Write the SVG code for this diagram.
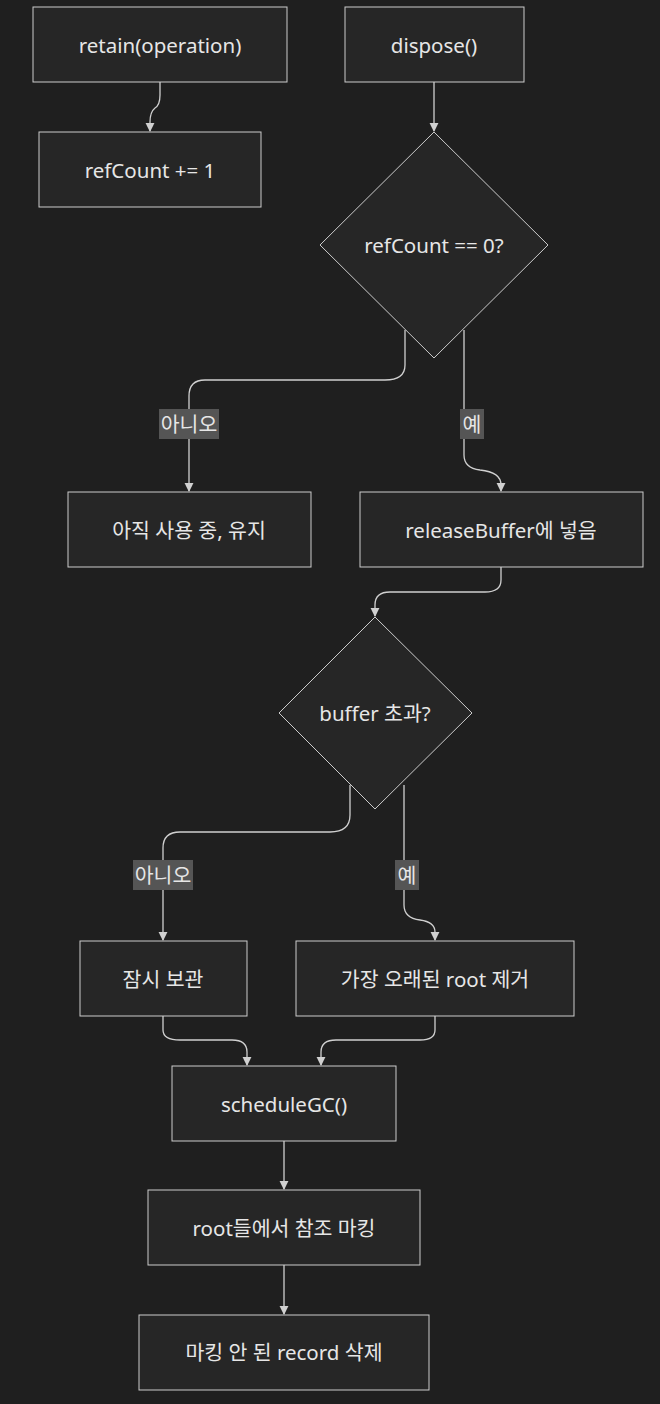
<svg xmlns="http://www.w3.org/2000/svg" width="660" height="1404" viewBox="0 0 660 1404">
<style>
.n{fill:#262626;stroke:#cccccc;stroke-width:1}
.t{fill:#e6e6e6;font-family:"Noto Sans","Noto Sans CJK KR",sans-serif;font-size:20.5px;text-anchor:middle;dominant-baseline:central}
.c{fill:none;stroke:#d0d0d0;stroke-width:1.3;marker-end:url(#a)}
.lb{fill:#555555}
</style>
<defs><marker id="a" viewBox="0 0 10 10" refX="9" refY="5" markerWidth="7" markerHeight="7" orient="auto"><path d="M0,0L10,5L0,10z" fill="#d0d0d0"/></marker></defs>
<rect width="660" height="1404" fill="#1f1f1f"/>
<g id="connectors">
<path class="c" d="M160,82V95Q160,105 155,108Q150,112 150,122V131"/>
<path class="c" d="M434,82V131"/>
<path class="c" d="M405,330V365Q405,380 385,380H205Q189,380 189,396V491"/>
<path class="c" d="M464,330V455Q464,468 480,470Q501,472 501,485V491"/>
<path class="c" d="M501,567V580Q501,592 485,592H390Q375,592 375,605V616"/>
<path class="c" d="M350,785V815Q350,832 330,832H180Q163,832 163,848V940"/>
<path class="c" d="M404,785V905Q404,918 420,920Q435,922 435,932V940"/>
<path class="c" d="M163,1016V1030Q163,1040 180,1040H232Q247,1040 247,1052V1065"/>
<path class="c" d="M435,1016V1030Q435,1040 420,1040H336Q321,1040 321,1052V1065"/>
<path class="c" d="M284,1141V1189"/>
<path class="c" d="M284,1265V1314"/>
</g>
<g id="labels">
<rect class="lb" x="159" y="409" width="60" height="30"/><text class="t" x="189" y="424">아니오</text>
<rect class="lb" x="460" y="409" width="24" height="30"/><text class="t" x="472" y="424">예</text>
<rect class="lb" x="133" y="860" width="60" height="30"/><text class="t" x="163" y="875">아니오</text>
<rect class="lb" x="395" y="860" width="24" height="30"/><text class="t" x="407" y="875">예</text>
</g>
<g id="retain"><rect class="n" x="33" y="7" width="254" height="75"/><text class="t" x="160" y="45">retain(operation)</text></g>
<g id="dispose"><rect class="n" x="345" y="7" width="179" height="75"/><text class="t" x="434" y="45">dispose()</text></g>
<g id="inc"><rect class="n" x="39" y="132" width="222" height="75"/><text class="t" x="150" y="170">refCount += 1</text></g>
<g id="d1"><path class="n" d="M434,132L548,245L434,358L320,245Z"/><text class="t" x="434" y="245">refCount == 0?</text></g>
<g id="keep"><rect class="n" x="68" y="492" width="243" height="75"/><text class="t" x="189" y="530">아직 사용 중, 유지</text></g>
<g id="rb"><rect class="n" x="360" y="492" width="283" height="75"/><text class="t" x="501" y="530">releaseBuffer에 넣음</text></g>
<g id="d2"><path class="n" d="M375,617L472,713L375,809L279,713Z"/><text class="t" x="375" y="713">buffer 초과?</text></g>
<g id="hold"><rect class="n" x="80" y="941" width="167" height="75"/><text class="t" x="163" y="979">잠시 보관</text></g>
<g id="rm"><rect class="n" x="296" y="941" width="278" height="75"/><text class="t" x="435" y="979">가장 오래된 root 제거</text></g>
<g id="gc"><rect class="n" x="172" y="1066" width="224" height="75"/><text class="t" x="284" y="1104">scheduleGC()</text></g>
<g id="mark"><rect class="n" x="148" y="1190" width="272" height="75"/><text class="t" x="284" y="1228">root들에서 참조 마킹</text></g>
<g id="del"><rect class="n" x="139" y="1315" width="290" height="75"/><text class="t" x="284" y="1352">마킹 안 된 record 삭제</text></g>
</svg>
